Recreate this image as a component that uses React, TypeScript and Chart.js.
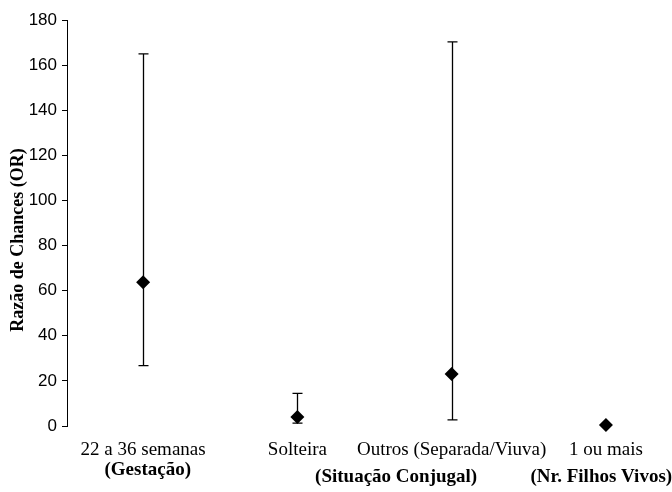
import React, { useEffect, useRef } from "react";
import { Chart, registerables } from "chart.js";

Chart.register(...registerables);

const categories = ["22 a 36 semanas", "Solteira", "Outros (Separada/Viuva)", "1 ou mais"];
const oddsRatio = [63.7, 4.0, 23, 0.4];
const lowerCI = [26.8, 1.3, 2.7, null];
const upperCI = [165, 14.5, 170.3, null];
const groupLabels = ["(Gestação)", "(Situação Conjugal)", "(Nr. Filhos Vivos)"];
const groupCenters = [0.03, 1.64, 2.97];
const groupRows = [0, 1, 1];
const yTicks = [0, 20, 40, 60, 80, 100, 120, 140, 160, 180];

const SERIF = "'Liberation Serif', 'Times New Roman', serif";

const errorBars = {
  id: "errorBars",
  beforeDatasetsDraw(chart: any) {
    const { ctx, scales } = chart;
    const xs = scales.x, ys = scales.y;
    ctx.save();
    ctx.strokeStyle = "#000";
    ctx.lineWidth = 1.3;
    categories.forEach((_, i) => {
      const lo = lowerCI[i], hi = upperCI[i];
      if (lo == null || hi == null) return;
      const x = Math.round(xs.getPixelForValue(i)) + 0.5;
      const y1 = ys.getPixelForValue(lo);
      const y2 = ys.getPixelForValue(hi);
      ctx.beginPath();
      ctx.moveTo(x, y1);
      ctx.lineTo(x, y2);
      ctx.moveTo(x - 5, y1);
      ctx.lineTo(x + 5, y1);
      ctx.moveTo(x - 5, y2);
      ctx.lineTo(x + 5, y2);
      ctx.stroke();
    });
    ctx.restore();
  },
};

const labelsPlugin = {
  id: "labelsPlugin",
  afterDraw(chart: any) {
    const { ctx, scales, chartArea } = chart;
    const xs = scales.x;
    ctx.save();
    ctx.fillStyle = "#000";
    ctx.textAlign = "center";
    ctx.textBaseline = "middle";
    ctx.font = `19px ${SERIF}`;
    categories.forEach((c, i) => {
      ctx.fillText(c, xs.getPixelForValue(i), chartArea.bottom + 24);
    });
    ctx.font = `bold 19px ${SERIF}`;
    groupLabels.forEach((g, i) => {
      const y = chartArea.bottom + (groupRows[i] === 0 ? 44 : 51);
      ctx.fillText(g, xs.getPixelForValue(groupCenters[i]), y);
    });
    // y title
    ctx.translate(18, 240);
    ctx.rotate(-Math.PI / 2);
    ctx.font = `bold 18px ${SERIF}`;
    ctx.fillText("Razão de Chances (OR)", 0, 0);
    ctx.restore();
  },
};

export default function App() {
  const ref = useRef<HTMLCanvasElement>(null);
  useEffect(() => {
    if (!ref.current) return;
    const chart = new Chart(ref.current, {
      type: "scatter",
      data: {
        datasets: [
          {
            data: oddsRatio.map((v, i) => ({ x: i, y: v })),
            pointStyle: "rectRot",
            pointRadius: 7,
            pointHoverRadius: 7,
            backgroundColor: "#000",
            borderColor: "#000",
            borderWidth: 0,
            clip: false,
          },
        ],
      },
      options: {
        responsive: false,
        animation: false,
        layout: { padding: { top: 20, bottom: 66, left: 0, right: 0 } },
        plugins: { legend: { display: false }, tooltip: { enabled: false } },
        scales: {
          x: {
            type: "linear",
            display: false,
            min: -0.4935,
            max: 3.383,
          },
          y: {
            min: 0,
            max: 180,
            afterFit: (s: any) => {
              s.width = 67;
            },
            afterBuildTicks: (s: any) => {
              s.ticks = yTicks.map((v) => ({ value: v }));
            },
            grid: {
              drawOnChartArea: false,
              drawTicks: true,
              tickLength: 5,
              color: "#000",
            },
            border: { display: true, color: "#000", width: 1 },
            ticks: {
              color: "#000",
              padding: 5,
              font: { family: "'Liberation Sans Narrow', 'Arial Narrow', 'Liberation Sans', sans-serif", size: 17 },
            },
          },
        },
      },
      plugins: [errorBars, labelsPlugin],
    });
    return () => chart.destroy();
  }, []);
  return (
    <canvas
      ref={ref}
      width={672}
      height={492}
      style={{ position: "absolute", left: 0, top: 0, width: 672, height: 492 }}
    />
  );
}
